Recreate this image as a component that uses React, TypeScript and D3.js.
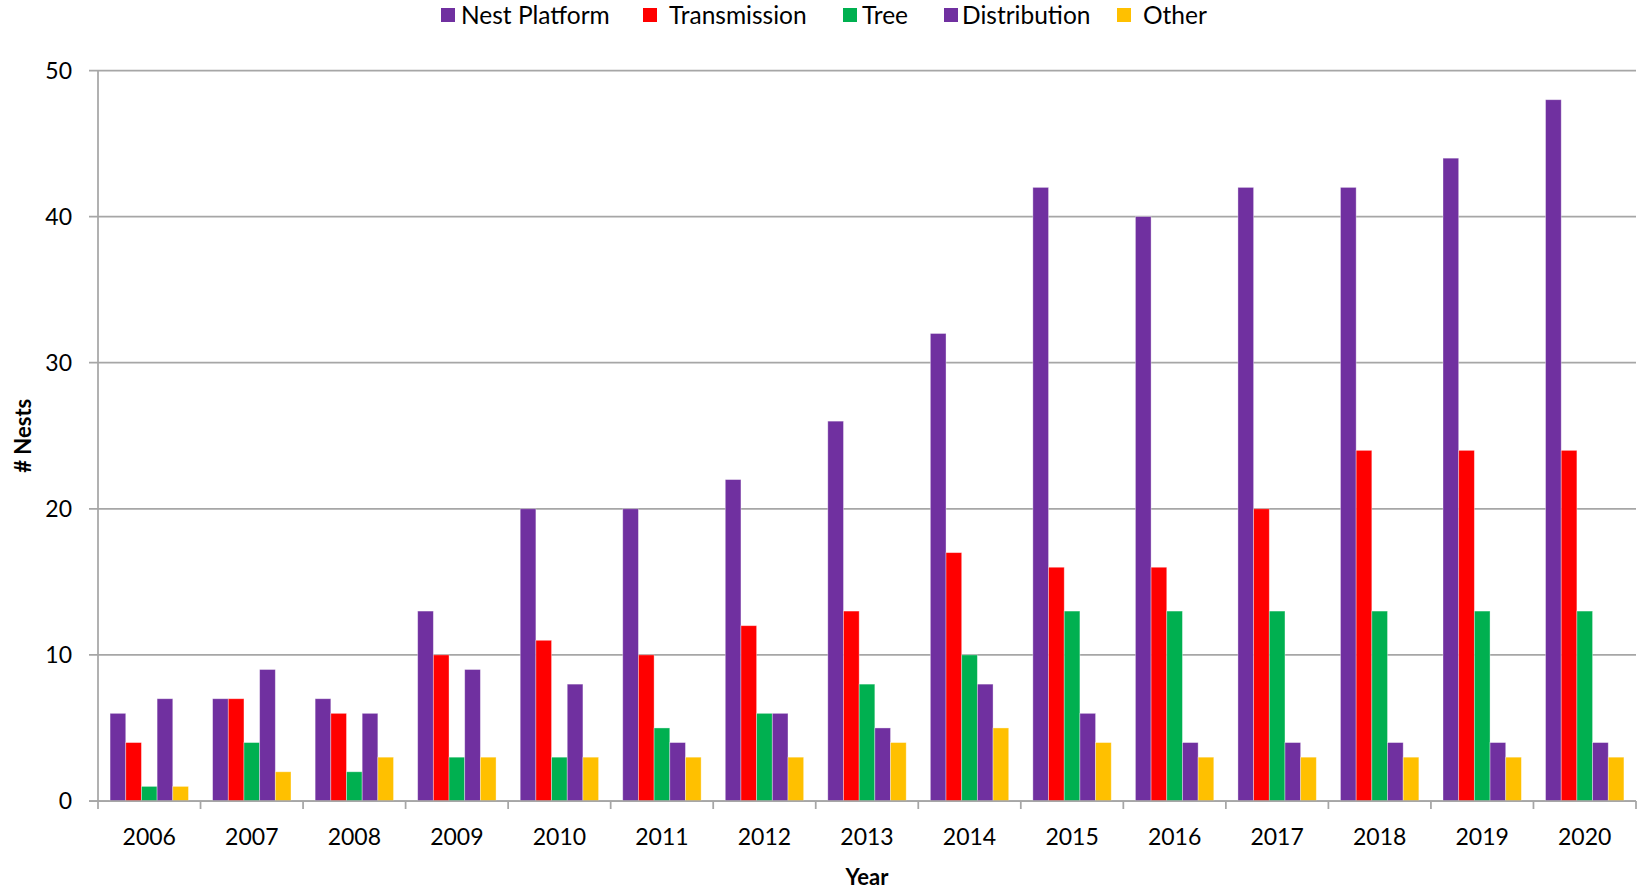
import React from "react";
import * as d3 from "d3";

const WIDTH = 1642;
const HEIGHT = 893;

const years = ["2006", "2007", "2008", "2009", "2010", "2011", "2012", "2013", "2014", "2015", "2016", "2017", "2018", "2019", "2020"];
const seriesNames = ["Nest Platform", "Transmission", "Tree", "Distribution", "Other"];
const seriesColors = ["#7030A0", "#FF0000", "#00B050", "#7030A0", "#FFC000"];

const nestPlatform = [6, 7, 7, 13, 20, 20, 22, 26, 32, 42, 40, 42, 42, 44, 48];
const transmission = [4, 7, 6, 10, 11, 10, 12, 13, 17, 16, 16, 20, 24, 24, 24];
const tree = [1, 4, 2, 3, 3, 5, 6, 8, 10, 13, 13, 13, 13, 13, 13];
const distribution = [7, 9, 6, 9, 8, 4, 6, 5, 8, 6, 4, 4, 4, 4, 4];
const other = [1, 2, 3, 3, 3, 3, 3, 4, 5, 4, 3, 3, 3, 3, 3];

const yTicks = [0, 10, 20, 30, 40, 50];

const FONT = "Lato, 'Open Sans', sans-serif";

const App = () => {
  const series = [nestPlatform, transmission, tree, distribution, other];

  const margin = { left: 98, right: 6, top: 70.5, bottom: 92 };
  const plotRight = WIDTH - margin.right;
  const plotBottom = HEIGHT - margin.bottom;

  const x0 = d3.scaleBand().domain(years).range([margin.left, plotRight]).paddingInner(0).paddingOuter(0);
  const x1 = d3
    .scaleBand()
    .domain(seriesNames)
    .range([0, x0.bandwidth()])
    .paddingOuter(0.77)
    .paddingInner(0);
  const y = d3.scaleLinear().domain([0, 50]).range([plotBottom, margin.top]);

  const grid = "#a6a6a6";

  // legend layout (swatch x, text x)
  const legendItems = [
    { sx: 441, tx: 461 },
    { sx: 643, tx: 669 },
    { sx: 843, tx: 862 },
    { sx: 944, tx: 962 },
    { sx: 1117, tx: 1143 },
  ];

  return (
    <svg
      width={WIDTH}
      height={HEIGHT}
      style={{ position: "absolute", left: 0, top: 0, background: "#fff" }}
      fontFamily={FONT}
    >
      {/* legend */}
      <g>
        {seriesNames.map((name, i) => (
          <g key={name}>
            <rect x={legendItems[i].sx} y={8} width={14} height={14} fill={seriesColors[i]} />
            <text x={legendItems[i].tx} y={23.5} fontSize={24.5} fill="#000">
              {name}
            </text>
          </g>
        ))}
      </g>

      {/* gridlines + y ticks */}
      <g>
        {yTicks.map((t) => (
          <g key={t}>
            <line x1={margin.left - 9} x2={plotRight} y1={y(t)} y2={y(t)} stroke={grid} strokeWidth={1.75} />
            <text x={72} y={y(t)} dy="0.36em" textAnchor="end" fontSize={23} fill="#000">
              {t}
            </text>
          </g>
        ))}
      </g>

      {/* bars */}
      <g>
        {years.map((yr, yi) => (
          <g key={yr} transform={`translate(${x0(yr)},0)`}>
            {series.map((vals, si) => (
              <rect
                key={si}
                x={x1(seriesNames[si])}
                y={y(vals[yi])}
                width={x1.bandwidth()}
                height={y(0) - y(vals[yi])}
                fill={seriesColors[si]}
                stroke="#ffffff"
                strokeOpacity={0.45}
                strokeWidth={0.8}
              />
            ))}
          </g>
        ))}
      </g>

      {/* axes */}
      <line x1={margin.left} x2={margin.left} y1={margin.top} y2={plotBottom + 8} stroke={grid} strokeWidth={1.75} />
      <line x1={margin.left - 9} x2={plotRight} y1={plotBottom} y2={plotBottom} stroke={grid} strokeWidth={1.75} />
      {years.map((yr) => (
        <line
          key={"tk" + yr}
          x1={(x0(yr) as number) + x0.bandwidth()}
          x2={(x0(yr) as number) + x0.bandwidth()}
          y1={plotBottom}
          y2={plotBottom + 8}
          stroke={grid}
          strokeWidth={1.75}
        />
      ))}
      {years.map((yr) => (
        <text
          key={"lb" + yr}
          x={(x0(yr) as number) + x0.bandwidth() / 2}
          y={837}
          dy="0.36em"
          textAnchor="middle"
          fontSize={23}
          fill="#000"
        >
          {yr}
        </text>
      ))}

      {/* axis titles */}
      <text x={(margin.left + plotRight) / 2} y={877} dy="0.36em" textAnchor="middle" fontSize={22} fontWeight="bold">
        Year
      </text>
      <text
        transform={`translate(23,${(margin.top + plotBottom) / 2}) rotate(-90)`}
        dy="0.36em"
        textAnchor="middle"
        fontSize={22}
        fontWeight="bold"
      >
        # Nests
      </text>
    </svg>
  );
};

export default App;
